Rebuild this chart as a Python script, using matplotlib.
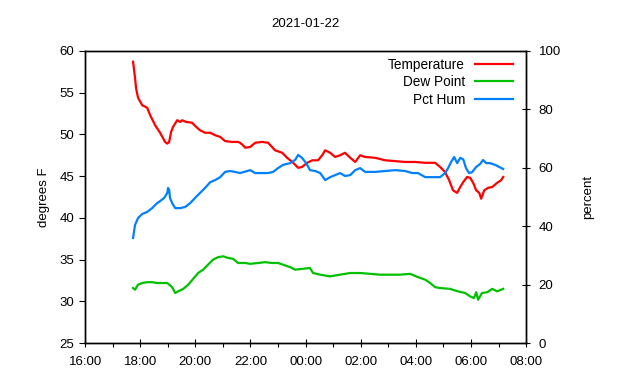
import matplotlib
matplotlib.use('Agg')
import matplotlib.pyplot as plt
from matplotlib.ticker import MultipleLocator, FuncFormatter

plt.rcParams['font.family'] = ['Liberation Sans', 'DejaVu Sans']

title = '2021-01-22'

# hours since midnight of the start day (values above 24 are the next morning)
temp_hours = [17.74, 17.81, 17.85, 17.92, 18.07, 18.25, 18.36, 18.54, 18.72, 18.90,
              18.98, 19.05, 19.12, 19.19, 19.34, 19.45, 19.52, 19.66, 19.88, 20.03,
              20.17, 20.35, 20.54, 20.72, 20.90, 21.08, 21.33, 21.55, 21.62, 21.73,
              21.81, 21.99, 22.17, 22.42, 22.64, 22.89, 23.15, 23.33, 23.55, 23.73,
              23.87, 24.06, 24.24, 24.45, 24.60, 24.71, 24.89, 25.07, 25.25, 25.43,
              25.62, 25.80, 25.98, 26.16, 26.52, 26.89, 27.25, 27.61, 27.97, 28.34,
              28.70, 28.88, 29.06, 29.21, 29.35, 29.50, 29.61, 29.72, 29.86, 29.97,
              30.08, 30.19, 30.30, 30.37, 30.48, 30.62, 30.77, 30.95, 31.09, 31.17]
temp_f = [58.7, 56.8, 55.5, 54.4, 53.5, 53.2, 52.3, 51.1, 50.2, 49.1,
          48.9, 49.1, 50.3, 50.9, 51.7, 51.5, 51.7, 51.5, 51.4, 50.9,
          50.5, 50.2, 50.2, 49.9, 49.7, 49.2, 49.1, 49.1, 49.0, 48.7,
          48.4, 48.5, 49.0, 49.1, 49.0, 48.1, 47.8, 47.2, 46.6, 46.0,
          46.1, 46.6, 46.9, 46.9, 47.5, 48.1, 47.8, 47.3, 47.5, 47.8,
          47.2, 46.7, 47.5, 47.3, 47.2, 46.9, 46.8, 46.7, 46.7, 46.6,
          46.6, 46.1, 45.5, 44.5, 43.3, 43.0, 43.7, 44.3, 44.9, 44.8,
          44.2, 43.3, 43.0, 42.3, 43.3, 43.6, 43.7, 44.2, 44.5, 44.9]

dew_hours = [17.74, 17.81, 17.92, 18.07, 18.25, 18.43, 18.61, 18.79, 18.98, 19.16,
             19.27, 19.37, 19.56, 19.74, 19.92, 20.10, 20.28, 20.46, 20.64, 20.83,
             21.01, 21.19, 21.37, 21.55, 21.81, 21.99, 22.28, 22.53, 22.79, 23.00,
             23.18, 23.44, 23.62, 24.16, 24.27, 24.53, 24.89, 25.25, 25.62, 25.98,
             26.34, 26.70, 27.07, 27.43, 27.79, 28.08, 28.34, 28.52, 28.70, 28.88,
             29.24, 29.53, 29.79, 29.97, 30.11, 30.19, 30.26, 30.40, 30.59, 30.77,
             30.95, 31.17]
dew_f = [31.6, 31.4, 32.0, 32.2, 32.3, 32.3, 32.2, 32.2, 32.2, 31.7,
         31.0, 31.2, 31.5, 32.0, 32.7, 33.4, 33.8, 34.4, 35.0, 35.3,
         35.4, 35.2, 35.1, 34.6, 34.6, 34.5, 34.6, 34.7, 34.6, 34.6,
         34.4, 34.1, 33.8, 34.0, 33.4, 33.2, 33.0, 33.2, 33.4, 33.4,
         33.3, 33.2, 33.2, 33.2, 33.3, 32.9, 32.6, 32.2, 31.7, 31.6,
         31.5, 31.2, 31.0, 30.6, 30.4, 31.1, 30.2, 31.0, 31.1, 31.5,
         31.2, 31.5]

hum_hours = [17.74, 17.81, 17.92, 18.07, 18.25, 18.43, 18.61, 18.72, 18.87, 18.98,
             19.01, 19.05, 19.08, 19.16, 19.27, 19.45, 19.63, 19.81, 19.99, 20.17,
             20.35, 20.54, 20.72, 20.90, 21.08, 21.26, 21.44, 21.62, 21.99, 22.17,
             22.35, 22.64, 22.82, 23.00, 23.18, 23.44, 23.62, 23.73, 23.87, 24.02,
             24.16, 24.35, 24.53, 24.71, 24.89, 25.07, 25.25, 25.43, 25.62, 25.80,
             25.98, 26.16, 26.52, 26.89, 27.25, 27.61, 27.87, 28.08, 28.34, 28.70,
             28.88, 29.06, 29.17, 29.28, 29.39, 29.50, 29.61, 29.72, 29.82, 29.93,
             30.04, 30.19, 30.33, 30.44, 30.55, 30.69, 30.88, 31.02, 31.17]
hum_pct = [36.0, 40.4, 42.8, 44.2, 44.9, 46.2, 47.9, 48.6, 49.7, 51.4,
           53.1, 52.4, 49.7, 47.9, 46.2, 46.2, 46.6, 47.9, 49.7, 51.4,
           53.1, 55.1, 55.8, 56.8, 58.6, 58.9, 58.6, 58.2, 59.2, 58.2,
           58.2, 58.2, 58.6, 59.9, 61.0, 61.6, 62.7, 64.4, 63.4, 61.6,
           59.2, 58.9, 58.2, 55.8, 56.8, 57.5, 58.2, 57.2, 57.5, 59.2,
           59.9, 58.6, 58.6, 58.9, 59.2, 58.9, 58.2, 58.2, 56.8, 56.8,
           56.8, 58.2, 59.9, 62.0, 63.7, 61.6, 63.4, 62.9, 59.9, 58.2,
           58.5, 60.3, 61.3, 62.7, 61.6, 61.6, 61.0, 60.3, 59.6]

fig = plt.figure(figsize=(6.4, 3.8), dpi=100)
ax = fig.add_axes([0.133, 0.097, 0.689, 0.769])
ax2 = ax.twinx()

l1, = ax.plot(temp_hours, temp_f, color='#ff0000', lw=1.6, label='Temperature')
l2, = ax.plot(dew_hours, dew_f, color='#00c000', lw=1.6, label='Dew Point')
l3, = ax2.plot(hum_hours, hum_pct, color='#0080ff', lw=1.6, label='Pct Hum')

ax.set_xlim(16, 32)
ax.set_ylim(25, 60)
ax2.set_ylim(0, 100)
ax.xaxis.set_major_locator(MultipleLocator(2))
ax.xaxis.set_minor_locator(MultipleLocator(1))
ax.xaxis.set_major_formatter(FuncFormatter(lambda v, p: f'{int(v) % 24:02d}:00'))
ax.yaxis.set_major_locator(MultipleLocator(5))
ax2.yaxis.set_major_locator(MultipleLocator(20))

ax.tick_params(axis='x', which='major', direction='inout', length=6, width=0.8, labelsize=9.5, pad=6)
ax.tick_params(axis='x', which='minor', direction='out', length=3, width=0.8)
ax.tick_params(axis='y', direction='out', length=4, width=0.8, labelsize=9.5, pad=4)
ax2.tick_params(axis='y', direction='inout', length=6, width=0.8, labelsize=9.5, pad=6)

for a in (ax, ax2):
    for s in a.spines.values():
        s.set_linewidth(1)

ax.set_ylabel('degrees F', fontsize=9.5, labelpad=7)
ax2.set_ylabel('percent', fontsize=9.5, labelpad=15)
ax.set_title(title, fontsize=9.5, pad=17)

ax2.legend(handles=[l1, l2, l3], loc='upper right', frameon=False, markerfirst=False,
           fontsize=9.8, handlelength=2.8, handletextpad=0.7, labelspacing=0.25,
           borderaxespad=0.1, bbox_to_anchor=(0.985, 1.0))

fig.savefig('out.png', dpi=100)
